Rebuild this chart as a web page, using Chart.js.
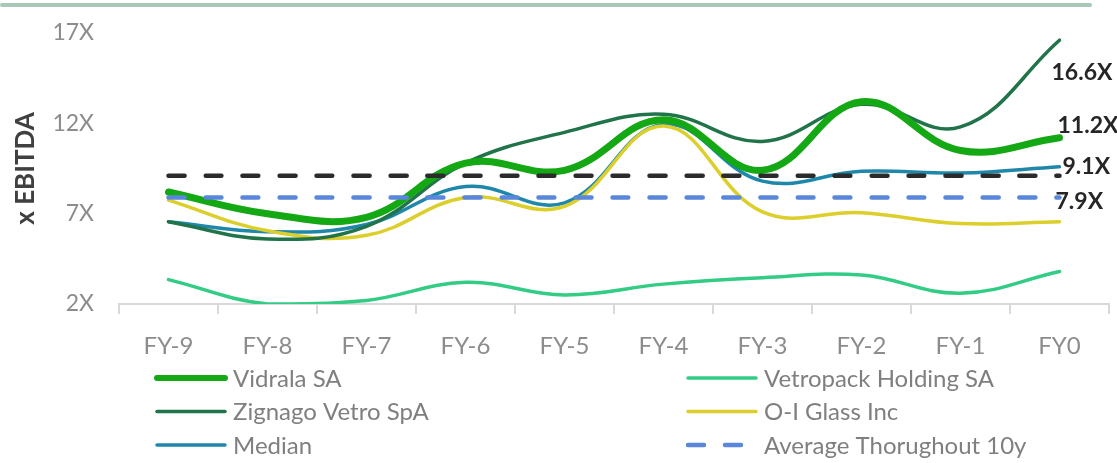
<!DOCTYPE html>
<html>
<head>
<meta charset="utf-8">
<title>x EBITDA</title>
<script src="https://cdn.jsdelivr.net/npm/chart.js@4.4.1/dist/chart.umd.min.js"></script>
<style>
  html, body { margin: 0; padding: 0; background: #ffffff; }
  #wrap { position: relative; width: 1117px; height: 463px; }
</style>
</head>
<body>
<div id="wrap"><canvas id="multiplesChart" width="1117" height="463"></canvas></div>
<script>
const categories = ["FY-9", "FY-8", "FY-7", "FY-6", "FY-5", "FY-4", "FY-3", "FY-2", "FY-1", "FY0"];
const vidrala = [8.2, 7.0, 6.8, 9.8, 9.4, 12.2, 9.4, 13.2, 10.5, 11.2];
const vetropack = [3.35, 2.0, 2.2, 3.2, 2.5, 3.1, 3.45, 3.6, 2.6, 3.8];
const zignago = [6.55, 5.6, 6.3, 9.8, 11.5, 12.5, 11.0, 13.05, 11.8, 16.6];
const oiGlass = [7.75, 6.05, 5.8, 7.9, 7.4, 11.85, 7.1, 7.05, 6.45, 6.55];
const median = [6.55, 6.0, 6.4, 8.5, 7.6, 11.95, 8.8, 9.35, 9.25, 9.6];
const peerAverage = [7.9, 7.9, 7.9, 7.9, 7.9, 7.9, 7.9, 7.9, 7.9, 7.9];
const vidralaAverage = [9.1, 9.1, 9.1, 9.1, 9.1, 9.1, 9.1, 9.1, 9.1, 9.1];
const yTicks = [2, 7, 12, 17];

const tickColor = "#8c8c8c";
const legendColor = "#7f7f7f";
const labelColor = "#262626";
const axisColor = "#d9d9d9";
const fontFamily = "Lato, 'Open Sans', sans-serif";

// thin rule across the top of the slide
const topRule = {
  id: "topRule",
  beforeDraw(chart) {
    const { ctx } = chart;
    ctx.save();
    ctx.strokeStyle = "#a9c8b8";
    ctx.lineWidth = 4;
    ctx.lineCap = "round";
    ctx.beginPath();
    ctx.moveTo(2, 5);
    ctx.lineTo(1090, 5);
    ctx.stroke();
    ctx.restore();
  }
};

// value tags next to the last point of some series
const endLabels = {
  id: "endLabels",
  afterDatasetsDraw(chart) {
    const { ctx } = chart;
    ctx.save();
    ctx.font = `bold 23px ${fontFamily}`;
    ctx.fillStyle = labelColor;
    ctx.textAlign = "left";
    ctx.textBaseline = "middle";
    chart.data.datasets.forEach((dataset, index) => {
      if (dataset.endLabelDy === undefined) {
        return;
      }
      const meta = chart.getDatasetMeta(index);
      const last = meta.data[meta.data.length - 1];
      const value = dataset.data[dataset.data.length - 1];
      ctx.fillText(`${value.toFixed(1)}X`, last.x + dataset.endLabelDx, last.y + dataset.endLabelDy);
    });
    ctx.restore();
  }
};

// two-column legend under the axis
const columnLegend = {
  id: "columnLegend",
  afterDraw(chart) {
    const { ctx } = chart;
    const columns = [155, 686];
    let item = 0;
    ctx.save();
    ctx.font = `24px ${fontFamily}`;
    ctx.textAlign = "left";
    ctx.textBaseline = "middle";
    chart.data.datasets.forEach((dataset) => {
      if (dataset.inLegend === false) {
        return;
      }
      const x = columns[item % 2];
      const y = 378 + Math.floor(item / 2) * 33.5;
      ctx.strokeStyle = dataset.borderColor;
      ctx.lineWidth = Math.min(dataset.borderWidth, 6);
      ctx.lineCap = "round";
      ctx.setLineDash(dataset.borderDash || []);
      ctx.beginPath();
      ctx.moveTo(x + 2, y);
      ctx.lineTo(x + 70, y);
      ctx.stroke();
      ctx.setLineDash([]);
      ctx.fillStyle = legendColor;
      ctx.fillText(dataset.label, x + 78, y + 1);
      item += 1;
    });
    ctx.restore();
  }
};

function lineSet(label, data, color, width, order) {
  return {
    label,
    data,
    borderColor: color,
    backgroundColor: color,
    borderWidth: width,
    borderCapStyle: "round",
    borderJoinStyle: "round",
    pointRadius: 0,
    pointHoverRadius: 0,
    tension: 0.4,
    fill: false,
    order
  };
}

function draw() {
  const canvas = document.getElementById("multiplesChart");

  const datasets = [
    Object.assign(lineSet("Vidrala SA", vidrala, "#14a814", 7, 2), { endLabelDx: -2, endLabelDy: -12 }),
    lineSet("Vetropack Holding SA", vetropack, "#33cc85", 3.5, 3),
    Object.assign(lineSet("Zignago Vetro SpA", zignago, "#217349", 3.5, 3), { endLabelDx: -8, endLabelDy: 32 }),
    lineSet("O-I Glass Inc", oiGlass, "#dccf2c", 3.5, 3),
    lineSet("Median", median, "#1f88aa", 3.5, 3),
    Object.assign(lineSet("Average Thorughout 10y", peerAverage, "#5b87da", 4.5, 1), {
      borderDash: [16, 21],
      endLabelDx: -4,
      endLabelDy: 4
    }),
    Object.assign(lineSet("Vidrala 10y average", vidralaAverage, "#2b2b2b", 4.5, 1), {
      borderDash: [16, 21],
      inLegend: false,
      endLabelDx: 3,
      endLabelDy: -9
    })
  ];

  new Chart(canvas, {
    type: "line",
    data: {
      labels: categories,
      datasets
    },
    options: {
      responsive: false,
      animation: false,
      devicePixelRatio: 1,
      layout: {
        // the y tick labels already claim about 31px above the plot
        padding: { top: 33, right: 8, bottom: 0, left: 0 }
      },
      plugins: {
        legend: { display: false },
        tooltip: { enabled: false }
      },
      scales: {
        x: {
          type: "category",
          offset: true,
          afterFit(scale) {
            scale.height = 159;
          },
          grid: {
            display: true,
            offset: true,
            drawOnChartArea: false,
            drawTicks: true,
            tickLength: 10,
            color: axisColor,
            lineWidth: 2
          },
          border: {
            display: true,
            color: axisColor,
            width: 2
          },
          ticks: {
            color: tickColor,
            padding: 18,
            maxRotation: 0,
            font: { family: fontFamily, size: 24 }
          }
        },
        y: {
          min: yTicks[0],
          max: yTicks[yTicks.length - 1],
          afterFit(scale) {
            scale.width = 119;
          },
          afterBuildTicks(scale) {
            scale.ticks = yTicks.map((value) => ({ value }));
          },
          grid: { display: false },
          border: { display: false },
          ticks: {
            color: tickColor,
            padding: 17,
            font: { family: fontFamily, size: 23 },
            callback: (value) => `${value}X`
          },
          title: {
            display: true,
            text: "x EBITDA",
            color: "#404040",
            padding: { top: 10, bottom: 0 },
            font: { family: fontFamily, size: 26, weight: "bold" }
          }
        }
      }
    },
    plugins: [topRule, endLabels, columnLegend]
  });
}

document.addEventListener("DOMContentLoaded", () => {
  Promise.all([
    document.fonts.load(`24px Lato`),
    document.fonts.load(`bold 24px Lato`)
  ]).then(draw, draw);
});
</script>
</body>
</html>
